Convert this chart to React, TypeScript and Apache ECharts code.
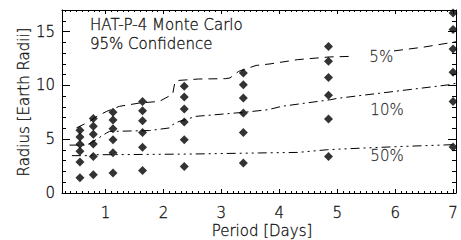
import React, { useEffect, useRef } from "react";
import * as echarts from "echarts";

// Monte Carlo sample planets: orbital period (days) and radii (Earth radii)
const periods = [0.56, 0.79, 1.13, 1.64, 2.36, 3.38, 4.85, 7.0];
const radiusRuns = [
  [5.82, 5.2, 4.52, 3.87, 2.88, 1.42],
  [6.91, 6.19, 5.45, 4.55, 3.4, 1.7],
  [7.49, 6.78, 5.98, 4.95, 3.75, 1.86],
  [8.49, 7.65, 6.72, 5.63, 4.24, 2.1],
  [9.91, 8.92, 7.81, 6.6, 4.95, 2.47],
  [11.15, 10.06, 8.83, 7.43, 5.63, 2.79],
  [13.62, 12.23, 10.74, 9.07, 6.88, 3.4],
  [16.73, 15.18, 13.38, 11.21, 8.51, 4.28],
];

// Detection-threshold curves (null = break for label)
const curve5X = [0.5, 0.73, 0.85, 1.02, 1.24, 1.59, 1.93, 2.04, 2.16, 2.2, 2.27, 2.61, 3.07, 3.15, 3.3, 3.47, 3.6, 3.84, 4.32, 4.87, 5.3, 5.45, 5.98, 6.49, 6.94, 7.05];
const curve5Y: (number | null)[] = [6.05, 6.65, 7.12, 7.58, 8.05, 8.36, 8.51, 8.83, 9.18, 10.34, 10.46, 10.59, 10.62, 10.69, 11.3, 11.61, 11.85, 11.99, 12.39, 12.64, 12.7, null, 13.2, 13.55, 13.95, 14.05];
const curve10X = [0.38, 0.68, 0.79, 1.02, 1.07, 1.76, 2.1, 2.16, 2.27, 2.38, 2.56, 3.24, 3.38, 3.81, 4.04, 4.89, 5.0, 6.94, 7.05];
const curve10Y = [4.45, 4.45, 4.8, 5.58, 5.72, 5.8, 6.04, 6.35, 6.65, 6.81, 7.12, 7.43, 7.49, 7.74, 8.05, 8.67, 8.79, 10.06, 10.2];
const curve50X = [0.42, 0.73, 0.79, 1.12, 2.49, 3.64, 4.32, 4.83, 5.46, 6.15, 7.05];
const curve50Y = [3.47, 3.47, 3.56, 3.56, 3.62, 3.72, 3.77, 4.02, 4.18, 4.33, 4.5];

const curveLabels = ["5%", "10%", "50%"];
const curveLabelX = [5.76, 5.86, 5.86];
const curveLabelY = [12.64, 7.74, 3.47];

const xMajorTicks = [1, 2, 3, 4, 5, 6, 7];
const yMajorTicks = [0, 5, 10, 15];
const titleLines = ["HAT-P-4 Monte Carlo", "95% Confidence"];
const xTitle = "Period [Days]";
const yTitle = "Radius [Earth Radii]";

const X_MIN = 0.25;
const X_MAX = 7.05;
const Y_MIN = 0;
const Y_MAX = 17;

const FONT = "DejaVu Sans";
const INK = "#000";
const TEXT_INK = "#111";
const TEXT_STROKE = 0.3;

function range(a: number, b: number, step: number) {
  const out: number[] = [];
  for (let v = a; v <= b + 1e-9; v += step) out.push(Math.round(v * 100) / 100);
  return out;
}

export default function App() {
  const ref = useRef<HTMLDivElement>(null);
  useEffect(() => {
    const chart = echarts.init(ref.current!, null, { renderer: "svg" });
    const xMinor = range(0.3, 7.0, 0.1);
    const yMinor = range(1, 16, 1);
    const lineStyle = { color: INK, width: 1 };
    const textStyle = {
      color: TEXT_INK,
      fontSize: 15,
      fontFamily: FONT,
      fontWeight: 200 as any,
      textBorderColor: TEXT_INK,
      textBorderWidth: TEXT_STROKE,
    };
    const gText = (text: string, x: number, y: number, align: string, rotation = 0) => ({
      type: "text",
      x,
      y,
      rotation,
      style: {
        text,
        fill: TEXT_INK,
        stroke: TEXT_INK,
        lineWidth: TEXT_STROKE,
        font: `200 15px "${FONT}"`,
        align,
        verticalAlign: "middle",
      },
    });

    const xAx = (pos: string, ticks: number[], len: number, main: boolean, labels: boolean) => ({
      type: "value",
      position: pos,
      min: X_MIN,
      max: X_MAX,
      axisLine: { show: main, onZero: false, lineStyle },
      axisTick: { show: true, inside: true, length: len, customValues: ticks, lineStyle },
      axisLabel: labels
        ? { show: true, customValues: ticks, margin: 12, ...textStyle }
        : { show: false },
      splitLine: { show: false },
    });
    const yAx = (pos: string, ticks: number[], len: number, main: boolean, labels: boolean) => ({
      type: "value",
      position: pos,
      min: Y_MIN,
      max: Y_MAX,
      axisLine: { show: main, onZero: false, lineStyle },
      axisTick: { show: true, inside: true, length: len, customValues: ticks, lineStyle },
      axisLabel: labels
        ? { show: true, customValues: ticks, margin: 7, ...textStyle }
        : { show: false },
      splitLine: { show: false },
    });

    const points: number[][] = [];
    periods.forEach((p, i) => radiusRuns[i].forEach((r) => points.push([p, r])));

    const curve = (xs: number[], ys: (number | null)[]) =>
      xs.map((x, i) => [x, ys[i] === null ? "-" : ys[i]]);

    const option: any = {
      animation: false,
      backgroundColor: "#fff",
      grid: { left: 62, top: 10, right: 1, bottom: 47, show: false },
      xAxis: [
        xAx("bottom", xMajorTicks, 4, true, true),
        xAx("bottom", xMinor, 2, false, false),
        xAx("top", xMajorTicks, 4, true, false),
        xAx("top", xMinor, 2, false, false),
      ],
      yAxis: [
        yAx("left", yMajorTicks, 8, true, true),
        yAx("left", yMinor, 4, false, false),
        yAx("right", yMajorTicks, 8, true, false),
        yAx("right", yMinor, 4, false, false),
      ],
      graphic: [
        gText(titleLines[0], 90, 25, "left"),
        gText(titleLines[1], 90, 43.5, "left"),
        gText(xTitle, 262, 231, "center"),
        gText(yTitle, 24, 102, "center", Math.PI / 2),
      ],
      series: [
        {
          type: "scatter",
          data: points,
          symbol: "diamond",
          symbolSize: [9, 9],
          itemStyle: { color: INK },
          z: 3,
        },
        {
          type: "line",
          data: curve(curve5X, curve5Y),
          showSymbol: false,
          symbol: "none",
          connectNulls: false,
          lineStyle: { color: INK, width: 1, type: [9, 6] },
          z: 2,
        },
        {
          type: "line",
          data: curve(curve10X, curve10Y),
          showSymbol: false,
          symbol: "none",
          lineStyle: { color: INK, width: 1, type: [9, 4, 2, 4] },
          z: 2,
        },
        {
          type: "line",
          data: curve(curve50X, curve50Y),
          showSymbol: false,
          symbol: "none",
          lineStyle: { color: INK, width: 1, type: [9, 4, 2, 4, 2, 4, 2, 4] },
          z: 2,
        },
        {
          type: "scatter",
          data: curveLabels.map((t, i) => ({ value: [curveLabelX[i], curveLabelY[i]], name: t })),
          symbolSize: 0,
          itemStyle: { color: "transparent" },
          label: {
            show: true,
            position: "inside",
            formatter: (p: any) => p.name,
            ...textStyle,
          },
          z: 4,
        },
      ],
    };
    chart.setOption(option);
    return () => chart.dispose();
  }, []);
  return (
    <div
      ref={ref}
      style={{ position: "fixed", left: 0, top: 0, width: 461, height: 240, background: "#fff" }}
    />
  );
}
